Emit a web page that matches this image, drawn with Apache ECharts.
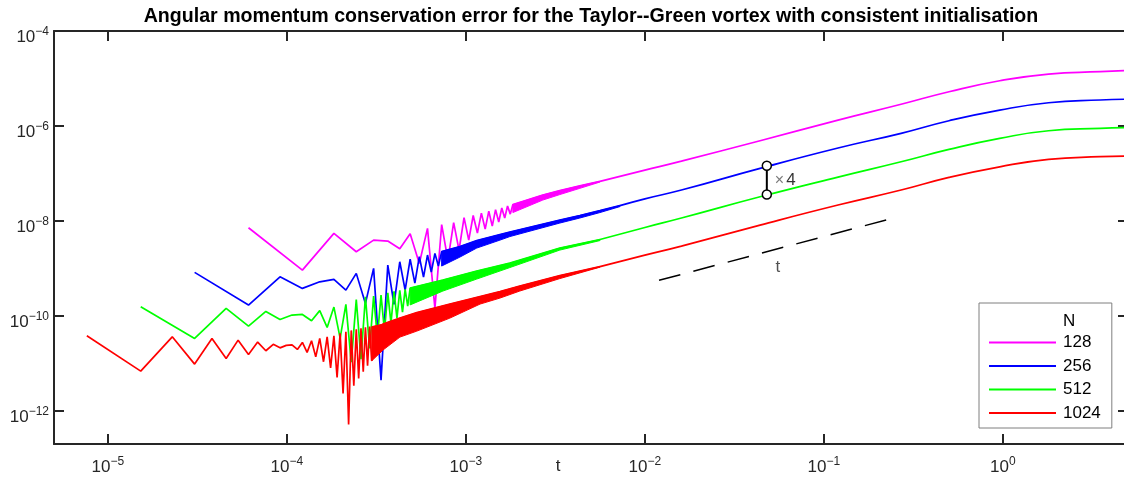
<!DOCTYPE html>
<html>
<head>
<meta charset="utf-8">
<script src="https://cdn.jsdelivr.net/npm/echarts@6/dist/echarts.min.js"></script>
<style>
  html, body { margin: 0; padding: 0; background: #ffffff; }
  #chart { width: 1124px; height: 481px; }
</style>
</head>
<body>
<div id="chart"></div>
<script>
// ---- Data ---------------------------------------------------------------
// Resolutions N and their time steps
const resolutionNames = ['128', '256', '512', '1024'];
const timeSteps = [1 / 16384, 1 / 32768, 1 / 65536, 1 / 131072];

// Error at the first time steps (one value per step, k = 1, 2, 3, ...)
const steps128 = [7.18e-9, 9.20e-10, 5.46e-9, 2.24e-9, 3.94e-9, 3.76e-9, 2.59e-9, 5.36e-9, 1.27e-9, 6.97e-9,
  1.44e-10, 8.38e-9, 1.50e-9, 9.23e-9, 2.43e-9, 1.17e-8, 3.94e-9, 1.30e-8, 5.55e-9, 1.46e-8,
  6.73e-9, 1.61e-8, 7.78e-9, 1.73e-8, 9.46e-9, 1.87e-8, 1.15e-8, 2.06e-8, 1.39e-8, 2.21e-8];
const steps256 = [8.24e-10, 1.69e-10, 6.65e-10, 3.79e-10, 5.22e-10, 5.86e-10, 3.49e-10, 7.85e-10, 1.83e-10, 1.00e-9,
  4.44e-12, 1.17e-9, 1.75e-10, 1.38e-9, 3.49e-10, 1.56e-9, 4.90e-10, 1.77e-9, 6.56e-10, 1.91e-9,
  8.36e-10, 2.07e-9, 1.12e-9, 2.26e-9];
const steps512 = [1.55e-10, 3.35e-11, 1.44e-10, 6.08e-11, 1.24e-10, 8.41e-11, 1.04e-10, 1.07e-10, 7.87e-11, 1.29e-10,
  5.71e-11, 1.53e-10, 3.40e-11, 1.75e-10, 1.06e-11, 2.20e-10, 1.23e-11, 2.52e-10, 2.06e-11, 2.61e-10,
  3.52e-11, 2.74e-10, 4.77e-11, 3.06e-10, 7.05e-11, 3.30e-10, 8.97e-11, 3.44e-10, 1.20e-10, 3.61e-10,
  1.61e-10, 3.85e-10];
const steps1024 = [3.80e-11, 6.85e-12, 3.62e-11, 9.64e-12, 3.35e-11, 1.27e-11, 3.08e-11, 1.54e-11, 2.80e-11, 1.84e-11,
  2.51e-11, 2.12e-11, 2.39e-11, 2.45e-11, 1.96e-11, 2.76e-11, 1.70e-11, 2.99e-11, 1.37e-11, 3.35e-11,
  1.08e-11, 3.62e-11, 8.05e-12, 3.80e-11, 5.05e-12, 4.27e-11, 2.32e-12, 4.61e-11, 5.16e-13, 4.94e-11,
  3.36e-12, 5.19e-11, 4.81e-12, 5.45e-11, 6.64e-12, 5.71e-11, 8.87e-12, 5.94e-11, 1.13e-11];

// Step-to-step oscillation band: times, upper and lower envelope
const bandT128 = [1.83e-3, 2.69e-3, 3.35e-3, 4.33e-3, 5.61e-3];
const bandHi128 = [2.21e-8, 3.51e-8, 4.36e-8, 5.47e-8, 6.81e-8];
const bandLo128 = [1.50e-8, 2.75e-8, 3.59e-8, 4.85e-8, 6.58e-8];

const bandT256 = [7.32e-4, 9.26e-4, 1.15e-3, 1.55e-3, 1.76e-3, 3.35e-3, 4.33e-3, 5.61e-3, 7.25e-3];
const bandHi256 = [2.26e-9, 2.88e-9, 3.85e-9, 5.15e-9, 5.82e-9, 1.04e-8, 1.30e-8, 1.65e-8, 2.10e-8];
const bandLo256 = [1.12e-9, 1.73e-9, 2.68e-9, 3.94e-9, 4.68e-9, 9.02e-9, 1.15e-8, 1.50e-8, 2.00e-8];

const bandT512 = [4.88e-4, 7.44e-4, 1.15e-3, 1.76e-3, 3.35e-3, 5.61e-3];
const bandHi512 = [3.85e-10, 5.68e-10, 8.77e-10, 1.29e-9, 2.68e-9, 4.05e-9];
const bandLo512 = [1.70e-10, 3.33e-10, 5.96e-10, 1.04e-9, 2.43e-9, 3.85e-9];

const bandT1024 = [2.98e-4, 3.44e-4, 4.28e-4, 5.32e-4, 8.14e-4, 1.20e-3, 1.55e-3, 2.00e-3, 3.35e-3, 5.61e-3];
const bandHi1024 = [5.94e-11, 6.70e-11, 8.97e-11, 1.17e-10, 1.77e-10, 2.55e-10, 3.24e-10, 4.24e-10, 7.05e-10, 1.09e-9];
const bandLo1024 = [1.13e-11, 1.90e-11, 3.57e-11, 4.77e-11, 8.97e-11, 1.77e-10, 2.37e-10, 3.33e-10, 6.10e-10, 1.06e-9];

// Later times, where the error grows smoothly
const tLate = [0.01, 0.016, 0.044, 0.12, 0.27, 0.5, 0.96, 1.8, 3.5, 5];
const late128 = [1.17e-7, 1.82e-7, 4.89e-7, 1.33e-6, 2.86e-6, 5.26e-6, 8.97e-6, 1.24e-5, 1.39e-5, 1.47e-5];
const late256 = [2.92e-8, 4.47e-8, 1.28e-7, 3.43e-7, 7.00e-7, 1.29e-6, 2.16e-6, 3.08e-6, 3.52e-6, 3.66e-6];
const late512 = [7.28e-9, 1.15e-8, 3.23e-8, 8.39e-8, 1.76e-7, 3.21e-7, 5.48e-7, 7.93e-7, 8.91e-7, 9.31e-7];
const late1024 = [1.90e-9, 2.95e-9, 8.17e-9, 2.16e-8, 4.47e-8, 8.26e-8, 1.38e-7, 1.98e-7, 2.25e-7, 2.32e-7];

// Factor-of-four bracket between N = 256 and N = 512
const ratioT = 0.048;
const ratioTop = 1.45e-7;
const ratioBottom = 3.6e-8;
const ratioSign = '×';
const ratioFactor = '4';

// Reference slope line  ~ t
const slopeT = [0.012, 0.23];
const slopeV = [5.6e-10, 1.08e-8];
const slopeLabelPoint = [0.0553, 1.06e-9];
const slopeText = 't';

// Axis ticks
const xTicks = [1e-5, 1e-4, 1e-3, 1e-2, 1e-1, 1];
const yTicks = [1e-12, 1e-10, 1e-8, 1e-6, 1e-4];

const titleText = 'Angular momentum conservation error for the Taylor--Green vortex with consistent initialisation';
const xName = 't';
const legendTitle = 'N';

// ---- Styling --------------------------------------------------------------
const FONT = '"Liberation Sans", Arial, Helvetica, sans-serif';
const AXIS_COLOR = '#262626';
const LINE_WIDTH = 1.7;
const colors = ['#ff00ff', '#0000ff', '#00ff00', '#ff0000'];

const groups = [
  { steps: steps128, bandT: bandT128, bandHi: bandHi128, bandLo: bandLo128, late: late128 },
  { steps: steps256, bandT: bandT256, bandHi: bandHi256, bandLo: bandLo256, late: late256 },
  { steps: steps512, bandT: bandT512, bandHi: bandHi512, bandLo: bandLo512, late: late512 },
  { steps: steps1024, bandT: bandT1024, bandHi: bandHi1024, bandLo: bandLo1024, late: late1024 }
];

// "10" with the exponent as a superscript
function powerLabel() {
  return {
    formatter: function (v) {
      const e = Math.round(Math.log10(v));
      return '{b|10}{s|' + String(e).replace('-', '\u2212') + '}';
    },
    rich: {
      b: { fontSize: 17, lineHeight: 20, verticalAlign: 'bottom', fontFamily: FONT, color: AXIS_COLOR },
      s: { fontSize: 12, lineHeight: 14, verticalAlign: 'top', fontFamily: FONT, color: AXIS_COLOR }
    }
  };
}

function logAxis(kind, position, min, max, ticks, showLabels) {
  const axis = {
    type: 'log',
    logBase: 10,
    position: position,
    min: min,
    max: max,
    axisLine: { show: true, onZero: false, lineStyle: { color: AXIS_COLOR, width: 2 } },
    axisTick: { show: true, inside: true, length: 10, customValues: ticks, lineStyle: { color: AXIS_COLOR, width: 2 } },
    minorTick: { show: false },
    splitLine: { show: false },
    axisLabel: Object.assign({ show: showLabels, customValues: ticks }, powerLabel())
  };
  if (kind === 'x') {
    axis.axisLabel.margin = 12;
  } else {
    axis.axisLabel.margin = 5;
    axis.axisLabel.padding = [9, 0, 0, 0];
  }
  return axis;
}

// ---- Series -------------------------------------------------------------
const series = [];
groups.forEach(function (g, idx) {
  const name = resolutionNames[idx];
  const color = colors[idx];
  const dt = timeSteps[idx];
  const early = g.steps.map(function (v, i) { return [(i + 1) * dt, v]; });
  const upper = g.bandT.slice(1).map(function (t, i) { return [t, g.bandHi[i + 1]]; });
  const last = g.bandT.length - 1;

  // individual time steps, then the upper edge of the oscillation band
  series.push({
    name: name,
    type: 'line',
    data: early.concat(upper),
    symbol: 'none',
    lineStyle: { color: color, width: LINE_WIDTH },
    itemStyle: { color: color },
    z: 2 + idx
  });

  // densely packed oscillation, filled between its envelopes
  series.push({
    name: name,
    type: 'custom',
    data: [[g.bandT[0], g.bandHi[0]]],
    renderItem: function (params, api) {
      const pts = [];
      for (let i = 0; i < g.bandT.length; i++) pts.push(api.coord([g.bandT[i], g.bandHi[i]]));
      for (let i = g.bandT.length - 1; i >= 0; i--) pts.push(api.coord([g.bandT[i], g.bandLo[i]]));
      return {
        type: 'polygon',
        shape: { points: pts },
        style: { fill: color, stroke: color, lineWidth: 1 }
      };
    },
    z: 2 + idx
  });

  // smooth growth at later times
  series.push({
    name: name,
    type: 'line',
    data: [[g.bandT[last], g.bandHi[last]]].concat(tLate.map(function (t, i) { return [t, g.late[i]]; })),
    symbol: 'none',
    smooth: 0.5,
    lineStyle: { color: color, width: LINE_WIDTH },
    itemStyle: { color: color },
    z: 2 + idx
  });
});

// Reference slope
series.push({
  type: 'line',
  data: slopeT.map(function (t, i) { return [t, slopeV[i]]; }),
  symbol: 'none',
  lineStyle: { color: '#000', width: 1.5, type: [22, 13.5] },
  z: 10
});
series.push({
  type: 'scatter',
  data: [slopeLabelPoint],
  symbolSize: 0,
  label: { show: true, position: 'inside', formatter: slopeText, fontSize: 17, fontFamily: FONT, color: AXIS_COLOR },
  z: 10
});

// Factor-of-four bracket
series.push({
  type: 'line',
  data: [[ratioT, ratioTop], [ratioT, ratioBottom]],
  symbol: 'circle',
  symbolSize: 9,
  showSymbol: true,
  lineStyle: { color: '#000', width: 2 },
  itemStyle: { color: '#ffffff', borderColor: '#000', borderWidth: 1.5 },
  z: 12
});
series.push({
  type: 'scatter',
  data: [[ratioT, Math.sqrt(ratioTop * ratioBottom)]],
  symbolSize: 0,
  label: {
    show: true, position: 'right', distance: 8,
    formatter: '{x|' + ratioSign + '}{n|' + ratioFactor + '}',
    rich: {
      x: { fontSize: 16, color: '#595959', fontFamily: FONT },
      n: { fontSize: 17, color: '#000000', fontFamily: FONT, padding: [0, 0, 0, 2] }
    }
  },
  z: 12
});

// ---- Chart --------------------------------------------------------------
const chart = echarts.init(document.getElementById('chart'), null, { renderer: 'canvas' });
chart.setOption({
  animation: false,
  backgroundColor: '#ffffff',
  title: {
    text: titleText,
    left: 591,
    top: 7,
    textAlign: 'center',
    padding: 0,
    textStyle: { fontSize: 19.6, fontWeight: 'bold', color: '#000', fontFamily: FONT }
  },
  grid: { left: 54, right: -4, top: 31, bottom: 37, outerBoundsMode: 'none', containLabel: false },
  xAxis: [
    Object.assign(logAxis('x', 'bottom', 5e-6, 5, xTicks, true), {
      name: xName, nameLocation: 'middle', nameGap: 14, nameMoveOverlap: false,
      nameTextStyle: { fontSize: 17, fontFamily: FONT, color: AXIS_COLOR, padding: [0, 66, 0, 0] }
    }),
    logAxis('x', 'top', 5e-6, 5, xTicks, false)
  ],
  yAxis: [
    logAxis('y', 'left', 2e-13, 1e-4, yTicks, true),
    logAxis('y', 'right', 2e-13, 1e-4, yTicks, false)
  ],
  legend: {
    data: resolutionNames,
    orient: 'vertical',
    left: 979,
    top: 303,
    itemWidth: 67,
    itemHeight: 14,
    itemGap: 6.5,
    padding: [31, 11, 6.5, 9],
    backgroundColor: '#ffffff',
    borderColor: '#7f7f7f',
    borderWidth: 1,
    borderRadius: 0,
    selectedMode: false,
    itemStyle: { opacity: 0, color: 'rgba(0,0,0,0)', borderWidth: 0 },
    textStyle: { fontSize: 17, fontFamily: FONT, color: '#000', padding: [0, 0, 0, 2] }
  },
  graphic: [{
    type: 'text',
    x: 1063,
    y: 321,
    z: 100,
    style: { text: legendTitle, fontSize: 17, fontFamily: FONT, fill: '#000', verticalAlign: 'middle' }
  }],
  series: series
});
</script>
</body>
</html>
